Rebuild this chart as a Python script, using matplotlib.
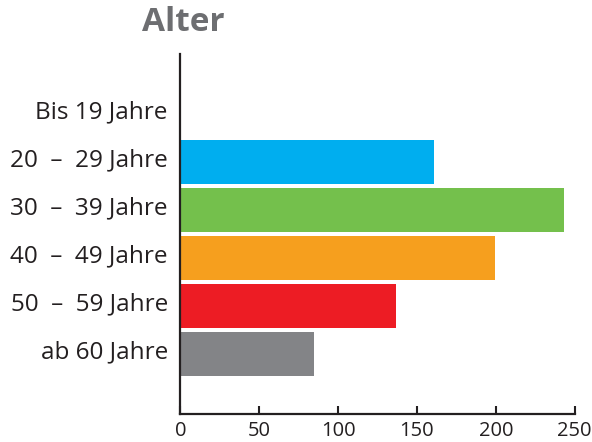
import matplotlib
matplotlib.use("Agg")
import matplotlib.pyplot as plt
import matplotlib.transforms as mtransforms

categories = ["Bis 19 Jahre", "20  –  29 Jahre", "30  –  39 Jahre",
              "40  –  49 Jahre", "50  –  59 Jahre", "ab 60 Jahre"]
values = [0, 161, 243, 199.5, 137, 85]
colors = ["#00aeef", "#00aeef", "#74c04c", "#f69f1e", "#ed1c24", "#838487"]
xticks = [0, 50, 100, 150, 200, 250]

plt.rcParams['font.family'] = ['Open Sans', 'DejaVu Sans']

fig = plt.figure(figsize=(5.92, 4.42), dpi=100)
ax = fig.add_axes([0.3046, 0.064, 0.6662, 0.8138])

ypos = list(range(len(categories)))
ax.barh(ypos, values, height=0.917, color=colors, linewidth=0)

ax.set_xlim(0, 250)
ax.set_ylim(len(categories) - 1 + 1.25, -1.25)
ax.set_yticks(ypos)
ax.set_yticklabels(categories, fontsize=17.5, color="#231f20")
ax.set_xticks(xticks)
ax.set_xticklabels([str(t) for t in xticks], fontsize=14.5, color="#231f20")
ax.tick_params(axis='y', length=0, pad=9)
ax.tick_params(axis='x', direction='in', length=6, width=1.5, color="#231f20", pad=5)

# labels sit a little above the bar centres in the original
shift = mtransforms.ScaledTranslation(0, 3 / 72, fig.dpi_scale_trans)
for lab in ax.get_yticklabels():
    lab.set_transform(lab.get_transform() + shift)

for s in ['top', 'right']:
    ax.spines[s].set_visible(False)
for s in ['left', 'bottom']:
    ax.spines[s].set_linewidth(1.6)
    ax.spines[s].set_color("#231f20")

fig.text(0.309, 0.95, "Alter", fontsize=24, fontweight='bold', color="#6d6e71",
         ha='center', va='center')

fig.savefig("out.png", dpi=100)
